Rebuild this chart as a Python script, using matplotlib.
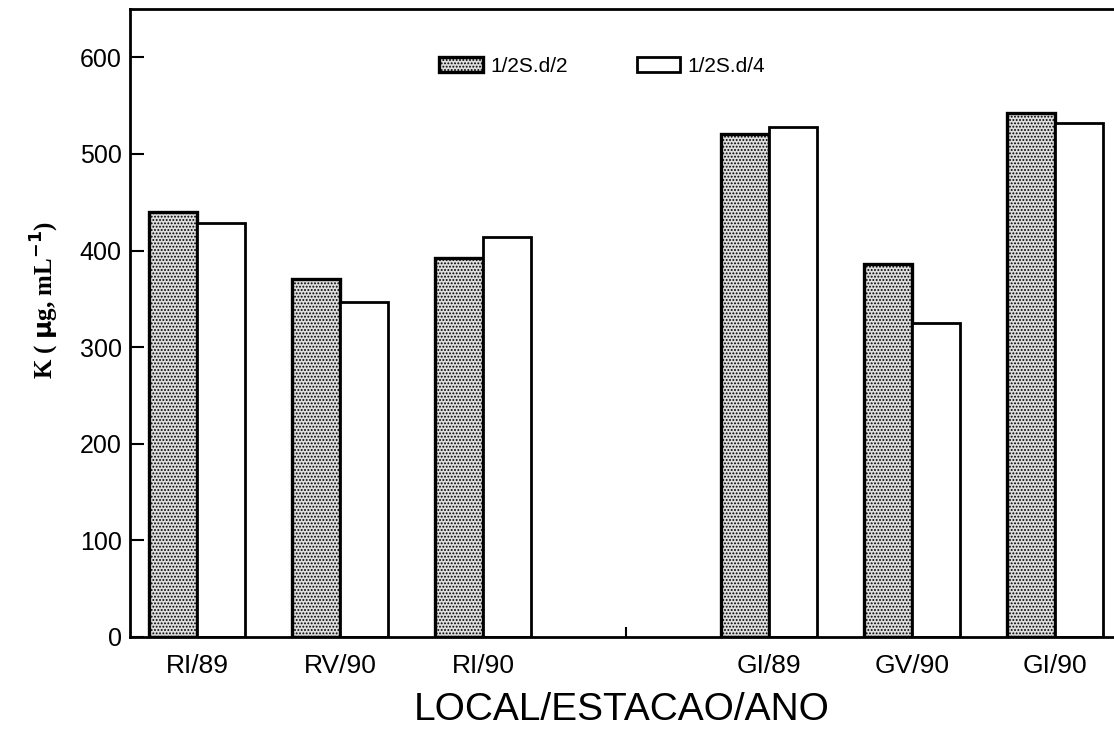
import numpy as np
import matplotlib
matplotlib.use('Agg')
import matplotlib.pyplot as plt

# dados
grupos = ['RI/89', 'RV/90', 'RI/90', 'GI/89', 'GV/90', 'GI/90']
posicoes = [0, 1, 2, 4, 5, 6]
k_sd2 = [440, 371, 392, 521, 386, 542]
k_sd4 = [428, 347, 414, 528, 325, 532]
rotulos_y = [0, 100, 200, 300, 400, 500, 600]

plt.rcParams['hatch.color'] = '#505050'
plt.rcParams['hatch.linewidth'] = 0.9

fig = plt.figure(figsize=(11.14, 7.33), dpi=100)
ax = fig.add_axes([130/1114, 1 - 637/733, 1 - 130/1114, (637 - 9)/733])

x = np.array(posicoes, dtype=float)
w = 0.335
ax.bar(x - w/2, k_sd2, w, facecolor='#dedede', edgecolor='black',
       hatch='.....', linewidth=2.4, label='1/2S.d/2')
ax.bar(x + w/2, k_sd4, w, facecolor='white', edgecolor='black',
       linewidth=2, label='1/2S.d/4')

ax.set_xlim(-0.47, 6.41)
ax.set_ylim(0, 650)

ax.set_yticks(rotulos_y)
ax.set_yticklabels([str(v) for v in rotulos_y], fontsize=18, family='Liberation Sans')
ax.tick_params(axis='y', direction='in', length=10, width=1.5, pad=6)

ax.set_xticks(posicoes)
ax.set_xticklabels(grupos, fontsize=19, family='Liberation Sans')
ax.tick_params(axis='x', length=0, pad=12)
ax.set_xticks([3], minor=True)
ax.tick_params(axis='x', which='minor', direction='in', length=7, width=1.5)

for s in ['left', 'top', 'bottom']:
    ax.spines[s].set_linewidth(2)
ax.spines['right'].set_visible(False)

ax.set_xlabel('LOCAL/ESTACAO/ANO', fontsize=28, family='Liberation Sans', labelpad=10)
ax.set_ylabel(r'K ( $\mathbf{\mu}$g, mL$^{\mathbf{-1}}$)', fontsize=18,
              family='Liberation Serif', fontweight='bold')
ax.yaxis.set_label_coords(-0.07, 0.537)

ax.legend(loc='center', bbox_to_anchor=(0.48, 0.909), ncol=2, frameon=False,
          handlelength=2.1, handleheight=0.7, handletextpad=0.35, columnspacing=3.3,
          prop={'family': 'Liberation Sans', 'size': 15})

fig.savefig('out.png', dpi=100)
